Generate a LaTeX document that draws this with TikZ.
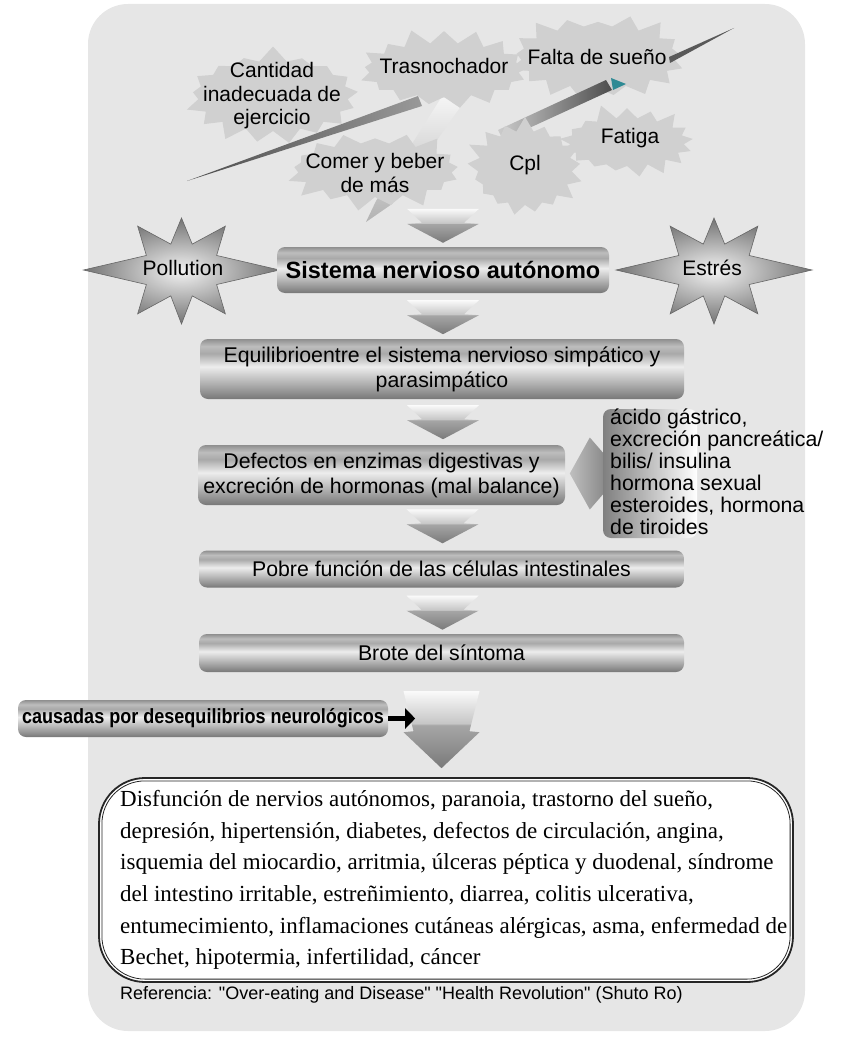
\documentclass[tikz,border=0pt]{standalone}
\usepackage{fontspec}
\setmainfont{Liberation Serif}
\setsansfont{Liberation Sans}
\newfontfamily\condsans[FakeStretch=0.88]{Liberation Sans}
\newfontfamily\refsans{Liberation Sans}
\usetikzlibrary{calc,shapes.symbols,arrows.meta}

\definecolor{panel}{HTML}{E6E6E6}
\definecolor{burst}{HTML}{D0D0D0}
\definecolor{tealtip}{HTML}{2E8A94}
\definecolor{tubeA}{HTML}{777777}
\definecolor{tubeB}{HTML}{8E8E8E}
\definecolor{tubeC}{HTML}{C2C2C2}
\definecolor{tubeD}{HTML}{EDEDED}
\definecolor{tubeE}{HTML}{A9A9A9}
\definecolor{tubeF}{HTML}{BDBDBD}
\definecolor{tubeG}{HTML}{8F8F8F}
\pgfdeclareverticalshading{tube}{100bp}{color(0bp)=(tubeA); color(25bp)=(tubeA); color(30bp)=(tubeB); color(42bp)=(tubeC); color(52bp)=(tubeD); color(63bp)=(tubeE); color(69bp)=(tubeF); color(75bp)=(tubeG); color(100bp)=(tubeG)}
\definecolor{chevA}{HTML}{7A7A7A}
\definecolor{chevB}{HTML}{A6A6A6}
\definecolor{chevC}{HTML}{C6C6C6}
\definecolor{chevD}{HTML}{FAFAFA}
\pgfdeclareverticalshading{chev}{100bp}{color(0bp)=(chevA); color(25bp)=(chevA); color(53bp)=(chevB); color(54bp)=(chevC); color(75bp)=(chevD); color(100bp)=(chevD)}

\tikzset{
  tubebox/.style={rectangle, rounded corners=8pt, shade, shading=tube, inner sep=0pt, align=center,
    font=\sffamily\fontsize{21.3}{25}\selectfont},
  chevfill/.style={shade, shading=chev},
  blob/.style={starburst, fill=burst, draw=none, starburst points=17, starburst point height=16pt, inner sep=0pt},
  blobtext/.style={align=center, inner sep=0pt, font=\sffamily\fontsize{21}{23.5}\selectfont},
  bigstar/.style={draw=black!60, line width=0.6pt, inner color=black!5, outer color=black!55},
  startext/.style={inner sep=0pt, font=\sffamily\fontsize{21}{25}\selectfont},
  streak/.style={left color=black!70, right color=black!40},
  pics/chevron/.style={code={\path[chevfill] (-36,0) -- (36,0) -- (21,14) -- (36,15) -- (0,34) -- (-36,15) -- (-21,14) -- cycle;}},
  pics/bigchevron/.style={code={\path[chevfill] (-38,0) -- (38,0) -- (28,40) -- (38,41) -- (0,77) -- (-38,41) -- (-28,40) -- cycle;}}
}

\begin{document}
\begin{tikzpicture}[x=1pt,y=-1pt]
\useasboundingbox (0,0) rectangle (844,1038);
\fill[panel, rounded corners=40pt] (88,4) rectangle (805,1031);

% habits
\node[blob, minimum width=182pt, minimum height=102pt, random starburst=7] (b-ejer) at (273,96) {};
\path[streak] (187,181) -- (418,96) -- (422,106) -- cycle;
\path[top color=white!60!panel, bottom color=black!30] (441,98) -- (468,96) -- (392,204) -- (366,222) -- (376,201) -- cycle;
\node[blob, minimum width=182pt, minimum height=86pt, random starburst=11] (b-tras) at (444,70) {};
\node[blob, minimum width=186pt, minimum height=94pt, random starburst=23] (b-falta) at (598,57) {};
\node[blob, minimum width=146pt, minimum height=80pt, random starburst=5] (b-fatiga) at (627,142) {};
\path[left color=black!20, right color=black!70] (498,130) -- (606,80) -- (612,90) -- (503,140) -- cycle;
\fill[tealtip] (611,78) -- (626,84) -- (613,90) -- cycle;
\fill[black!65] (669,57) -- (734,28) -- (670,63) -- cycle;
\node[blob, minimum width=186pt, minimum height=86pt, random starburst=13] (b-comer) at (375,170) {};
\node[blob, minimum width=126pt, minimum height=106pt, random starburst=17] (b-cpl) at (525,168) {};

\node[blobtext] (ejercicio) at (272,96) {Cantidad\\inadecuada de\\ejercicio};
\node[blobtext] (trasnochador) at (444,66) {Trasnochador};
\node[blobtext] (falta) at (597,57) {Falta de sueño};
\node[blobtext] (comer) at (375,173) {Comer y beber\\de más};
\node[blobtext] (cpl) at (525,165) {Cpl};
\node[blobtext] (fatiga) at (630,138) {Fatiga};

% outside factors
\begin{scope}[shift={(181.5,270)}]
\path[bigstar] (0:98) \foreach \a/\r in {22.5/38,45/62,67.5/28,90/54,112.5/28,135/62,157.5/38,180/98,202.5/38,225/62,247.5/28,270/52,292.5/28,315/62,337.5/38} { -- (\a:\r)} -- cycle;
\end{scope}
\begin{scope}[shift={(714,270)}]
\path[bigstar] (0:98) \foreach \a/\r in {22.5/38,45/62,67.5/28,90/54,112.5/28,135/62,157.5/38,180/98,202.5/38,225/62,247.5/28,270/52,292.5/28,315/62,337.5/38} { -- (\a:\r)} -- cycle;
\end{scope}
\node[startext] (pollution) at (183,268) {Pollution};
\node[startext] (estres) at (712,268) {Estrés};

% chain
\node[tubebox, minimum width=332pt, minimum height=46pt, font=\sffamily\bfseries\fontsize{23.5}{28}\selectfont] (sna) at (443,270) {Sistema nervioso autónomo};
\node[tubebox, minimum width=484pt, minimum height=60pt] (equil) at (442,369) {Equilibrioentre el sistema nervioso simpático y\\parasimpático};
\node[tubebox, minimum width=367pt, minimum height=60pt] (defect) at (381.5,475) {Defectos en enzimas digestivas y\\excreción de hormonas (mal balance)};
\node[tubebox, minimum width=485pt, minimum height=37pt] (pobre) at (441.5,569) {Pobre función de las células intestinales};
\node[tubebox, minimum width=485pt, minimum height=38pt] (brote) at (441.5,653) {Brote del síntoma};

\pic at ($(sna.north)+(0,-38)$) {chevron};
\pic at ($(sna.south)+(0,7)$) {chevron};
\pic at ($(equil.south)+(1,6)$) {chevron};
\pic at ($(pobre.north)+(1,-41)$) {chevron};
\pic at ($(pobre.south)+(1,8)$) {chevron};
\pic at ($(brote.south)+(0,19)$) {bigchevron};

% hormones
\node[rectangle, rounded corners=8pt, left color=black!50, right color=white, minimum width=94pt, minimum height=129pt, inner sep=0pt] (tab) at (650,473.5) {};
\path[left color=black!25, right color=black!45] ($(tab.west)+(-33,0)$) -- ($(tab.west)+(-13,-36)$) -- ($(tab.west)+(0,-21)$) -- ($(tab.west)+(0,21)$) -- ($(tab.west)+(-13,36)$) -- cycle;
\node[anchor=north west, align=left, inner sep=0pt, font=\sffamily\fontsize{21.3}{22}\selectfont] (hormonas) at (610,409) {ácido gástrico,\\excreción pancreática/\\bilis/ insulina\\hormona sexual\\esteroides, hormona\\de tiroides};

% neurological
\node[tubebox, minimum width=370pt, minimum height=37pt, font=\condsans\bfseries\fontsize{20.5}{24}\selectfont] (causadas) at (203,718.5) {causadas por desequilibrios neurológicos};
\draw[line width=5pt, -{Triangle[length=10pt,width=20pt]}] (causadas.east) -- ++(27,0);

\node[draw=black!85, line width=1.8pt, fill=white, rounded corners=46pt, minimum width=694pt, minimum height=204pt] (frame) at (446,880) {};
\draw[black!85, line width=0.8pt, rounded corners=43pt] ($(frame.north west)+(3.8,3.8)$) rectangle ($(frame.south east)+(-3.8,-3.8)$);
\node[anchor=west, align=left, inner sep=0pt, font=\rmfamily\fontsize{23}{31.6}\selectfont] (diseases) at (120,880) {Disfunción de nervios autónomos, paranoia, trastorno del sueño,\\depresión, hipertensión, diabetes, defectos de circulación, angina,\\isquemia del miocardio, arritmia, úlceras péptica y duodenal, síndrome\\del intestino irritable, estreñimiento, diarrea, colitis ulcerativa,\\entumecimiento, inflamaciones cutáneas alérgicas, asma, enfermedad de\\Bechet, hipotermia, infertilidad, cáncer};

\node[anchor=west, inner sep=0pt, font=\refsans\fontsize{18}{21}\selectfont] (ref) at (120,995) {Referencia: "Over-eating and Disease" "Health Revolution" (Shuto Ro)};
\end{tikzpicture}
\end{document}
